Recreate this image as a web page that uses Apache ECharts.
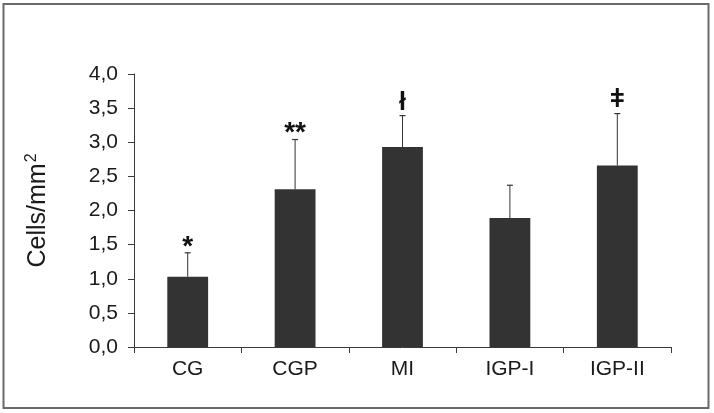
<!DOCTYPE html>
<html>
<head>
<meta charset="utf-8">
<script src="https://cdn.jsdelivr.net/npm/echarts@6/dist/echarts.min.js"></script>
<style>
html,body{margin:0;padding:0;background:#fff;}
#c{width:714px;height:413px;}
</style>
</head>
<body>
<div id="c"></div>
<script>
var categories = ['CG', 'CGP', 'MI', 'IGP-I', 'IGP-II'];
var means = [1.03, 2.31, 2.93, 1.89, 2.66];
var errTops = [1.38, 3.04, 3.39, 2.37, 3.42];
var annot = ['*', '**', 'ł', '', 'ǂ'];
var yTicks = ['0,0', '0,5', '1,0', '1,5', '2,0', '2,5', '3,0', '3,5', '4,0'];

var chart = echarts.init(document.getElementById('c'), null, {renderer: 'canvas'});
var FONT = '"Liberation Sans", Arial, sans-serif';

var errData = categories.map(function (c, i) { return [i, means[i], errTops[i]]; });
var annData = categories.map(function (c, i) { return [i, errTops[i]]; });

chart.setOption({
  animation: false,
  backgroundColor: '#ffffff',
  graphic: [{
    type: 'rect',
    shape: {x: 3.5, y: 4, width: 705, height: 404},
    style: {fill: 'none', stroke: '#6a6a6a', lineWidth: 2},
    silent: true
  }],
  grid: {left: 134, right: 43, top: 74, bottom: 66, containLabel: false},
  xAxis: {
    type: 'category',
    data: categories,
    boundaryGap: true,
    axisLine: {lineStyle: {color: '#3a3a3a', width: 1}},
    axisTick: {show: true, length: 6, lineStyle: {color: '#3a3a3a'}},
    axisLabel: {color: '#1a1a1a', fontFamily: FONT, fontSize: 21, margin: 12}
  },
  yAxis: {
    type: 'value',
    min: 0, max: 4, interval: 0.5,
    name: '{a|Cells/mm}{s|2}',
    nameLocation: 'middle',
    nameGap: 82,
    nameRotate: 90,
    nameTextStyle: {
      color: '#1a1a1a', fontFamily: FONT, fontSize: 25,
      rich: {
        a: {fontFamily: FONT, fontSize: 25, color: '#1a1a1a', lineHeight: 28},
        s: {fontFamily: FONT, fontSize: 16, color: '#1a1a1a', verticalAlign: 'top', lineHeight: 28, padding: [0, 0, 8, 1]}
      }
    },
    splitLine: {show: false},
    axisLine: {show: true, lineStyle: {color: '#3a3a3a', width: 1}},
    axisTick: {show: true, length: 6, lineStyle: {color: '#3a3a3a'}},
    axisLabel: {
      color: '#1a1a1a', fontFamily: FONT, fontSize: 21, margin: 16,
      formatter: function (v) { return yTicks[Math.round(v / 0.5)]; }
    }
  },
  series: [
    {
      type: 'bar',
      data: means,
      barWidth: '38%',
      itemStyle: {color: '#333333'},
      z: 2
    },
    {
      type: 'custom',
      z: 1,
      data: errData,
      renderItem: function (params, api) {
        var i = api.value(0);
        var base = api.coord([i, api.value(1)]);
        var top = api.coord([i, api.value(2)]);
        var cap = 3;
        return {
          type: 'group',
          children: [
            {type: 'line', shape: {x1: base[0], y1: base[1], x2: top[0], y2: top[1]},
             style: {stroke: '#333333', lineWidth: 1}},
            {type: 'line', shape: {x1: top[0] - cap, y1: top[1], x2: top[0] + cap, y2: top[1]},
             style: {stroke: '#333333', lineWidth: 1.2}}
          ]
        };
      }
    },
    {
      type: 'custom',
      z: 3,
      data: annData,
      renderItem: function (params, api) {
        var i = api.value(0);
        var txt = annot[i];
        if (!txt) return null;
        var p = api.coord([i, api.value(1)]);
        var isStar = txt.charAt(0) === '*';
        return {
          type: 'text',
          x: p[0],
          y: p[1] - (isStar ? 6 : 13),
          style: {
            text: txt,
            align: 'center',
            verticalAlign: 'middle',
            fontFamily: FONT,
            fontWeight: 'bold',
            fontSize: isStar ? 28 : 25,
            fill: '#111111'
          }
        };
      }
    }
  ]
});
</script>
</body>
</html>
